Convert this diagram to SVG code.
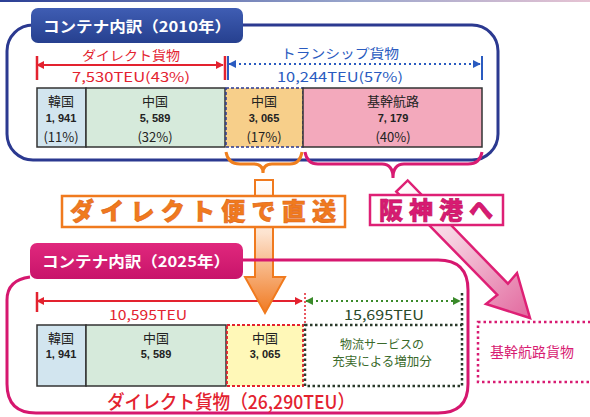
<svg xmlns="http://www.w3.org/2000/svg" width="590" height="417" viewBox="0 0 590 417">
<defs>
<linearGradient id="topline" x1="0" x2="1" y1="0" y2="0"><stop offset="0" stop-color="#2b3f95"/><stop offset="0.6" stop-color="#9aa6cc"/><stop offset="1" stop-color="#e6c3d3"/></linearGradient>
<linearGradient id="navyBox" x1="0" x2="0" y1="0" y2="1"><stop offset="0" stop-color="#3f5db3"/><stop offset="1" stop-color="#26408f"/></linearGradient>
<linearGradient id="magBox" x1="0" x2="0" y1="0" y2="1"><stop offset="0" stop-color="#e0287d"/><stop offset="1" stop-color="#c8146a"/></linearGradient>
<linearGradient id="orangeArrow" gradientUnits="userSpaceOnUse" x1="0" y1="180" x2="0" y2="313"><stop offset="0" stop-color="#ffffff"/><stop offset="0.4" stop-color="#fde3cf"/><stop offset="1" stop-color="#f07a22"/></linearGradient>
<linearGradient id="pinkArrow" gradientUnits="userSpaceOnUse" x1="400" y1="185" x2="530" y2="318"><stop offset="0" stop-color="#ffffff"/><stop offset="0.4" stop-color="#f6d0e0"/><stop offset="1" stop-color="#e2689e"/></linearGradient>
<marker id="mRed" viewBox="0 0 10 10" refX="9" refY="5" markerWidth="8" markerHeight="8" markerUnits="userSpaceOnUse" orient="auto-start-reverse"><path d="M0,0 L10,5 L0,10 z" fill="#e3222f"/></marker>
<marker id="mBlue" viewBox="0 0 10 10" refX="9" refY="5" markerWidth="8" markerHeight="8" markerUnits="userSpaceOnUse" orient="auto-start-reverse"><path d="M0,0 L10,5 L0,10 z" fill="#2a5bc0"/></marker>
<marker id="mGreen" viewBox="0 0 10 10" refX="9" refY="5" markerWidth="8" markerHeight="8" markerUnits="userSpaceOnUse" orient="auto-start-reverse"><path d="M0,0 L10,5 L0,10 z" fill="#3a8a2a"/></marker>
</defs>
<style>
text{font-family:"Noto Sans CJK JP","Liberation Sans",sans-serif;}
.title{fill:#fff;font-size:15px;font-weight:bold;}
.cell{fill:#222;font-size:13px;text-anchor:middle;}
.num{fill:#222;font-size:11px;font-weight:bold;text-anchor:middle;font-family:"Liberation Sans","Noto Sans CJK JP",sans-serif;}
.red{fill:#e3222f;}
.blue{fill:#2a5bc0;}
.lab{font-size:13px;text-anchor:middle;}
.frame{fill:none;stroke-width:3;}
.cellbox{stroke:#333;stroke-width:1.5;}
</style>
<rect x="0" y="0" width="590" height="2" fill="url(#topline)"/>

<g id="frame2010">
<rect class="frame" x="7" y="25" width="491" height="135" rx="26" stroke="#2b3990"/>
<rect x="31" y="8" width="212" height="35" rx="7" fill="url(#navyBox)"/>
<text class="title" x="137" y="32" text-anchor="middle" textLength="188" lengthAdjust="spacingAndGlyphs">コンテナ内訳（2010年）</text>
</g>

<g id="connectors">
<path d="M37,65 L223,65" stroke="#e3222f" stroke-width="2" marker-start="url(#mRed)" marker-end="url(#mRed)"/>
<path d="M37,56 V80 M225,56 V80" stroke="#e3222f" stroke-width="2.5"/>
<path d="M229,64 L480,64" stroke="#2a5bc0" stroke-width="2" stroke-dasharray="2 3" marker-start="url(#mBlue)" marker-end="url(#mBlue)"/>
<path d="M482,56 V80 M228,56 V80" stroke="#2a5bc0" stroke-width="2"/>
<path d="M37,301 L302,301" stroke="#e3222f" stroke-width="2" marker-start="url(#mRed)" marker-end="url(#mRed)"/>
<path d="M37,292 V312" stroke="#e3222f" stroke-width="2.5"/>
<path d="M306,301 L460,301" stroke="#3a8a2a" stroke-width="2" stroke-dasharray="2 3" marker-start="url(#mGreen)" marker-end="url(#mGreen)"/>
<path d="M305,293 V325" stroke="#e3222f" stroke-width="1.5" stroke-dasharray="2 2"/>
<path d="M462,293 V325" stroke="#2a3a2a" stroke-width="2.5" stroke-dasharray="2.5 2.5"/>
<path d="M226,152 Q228,164 240,164 L254,164 Q263,164 263,173 Q263,164 272,164 L290,164 Q300,164 302,152" fill="none" stroke="#f07f1e" stroke-width="3"/>
<path d="M305,152 Q307,164 318,164 L382,164 Q393,164 393,178 Q393,164 404,164 L468,164 Q480,164 482,152" fill="none" stroke="#d81b72" stroke-width="3"/>
<polygon points="255,180 273,180 273,277 285,277 265,313 245,277 255,277" fill="url(#orangeArrow)" stroke="#f07a1e" stroke-width="2"/>
<polygon points="396.3,191.6 497.3,294.9 486,304 530,318 517,273 507.9,283.7 407.7,180.4" fill="url(#pinkArrow)" stroke="#de2075" stroke-width="2.5" stroke-linejoin="miter"/>
</g>

<g id="label2010">
<text class="red lab" x="131" y="60" font-size="14" textLength="98" lengthAdjust="spacingAndGlyphs">ダイレクト貨物</text>
<text class="red lab" x="131" y="82" textLength="118" lengthAdjust="spacingAndGlyphs">7,530TEU(43%)</text>
<text class="blue lab" x="340" y="58" textLength="118" lengthAdjust="spacingAndGlyphs">トランシップ貨物</text>
<text class="blue lab" x="340" y="82" textLength="126" lengthAdjust="spacingAndGlyphs">10,244TEU(57%)</text>
</g>

<g id="korea2010">
<rect class="cellbox" x="37" y="88" width="49" height="59" fill="#d2e5ef"/>
<text class="cell" x="61" y="106">韓国</text>
<text class="num" x="61" y="122">1, 941</text>
<text class="cell" x="61" y="142">(11%)</text>
</g>
<g id="china2010">
<rect class="cellbox" x="86" y="88" width="139" height="59" fill="#d6eadb"/>
<text class="cell" x="155" y="106">中国</text>
<text class="num" x="155" y="122">5, 589</text>
<text class="cell" x="155" y="142">(32%)</text>
</g>
<g id="chinaTs2010">
<rect x="226" y="88" width="77" height="59" fill="#f7cf8a" stroke="#2b3990" stroke-width="1.5" stroke-dasharray="3 2"/>
<text class="cell" x="264" y="106">中国</text>
<text class="num" x="264" y="122">3, 065</text>
<text class="cell" x="264" y="142">(17%)</text>
</g>
<g id="trunk2010">
<rect class="cellbox" x="303" y="88" width="179" height="59" fill="#f3a9bc"/>
<text class="cell" x="393" y="106">基幹航路</text>
<text class="num" x="393" y="122">7, 179</text>
<text class="cell" x="393" y="142">(40%)</text>
</g>

<g id="bannerDirect">
<rect x="62" y="196" width="283" height="31" fill="#fff" stroke="#f07a1e" stroke-width="2.5"/>
<text x="203" y="220" font-size="24" font-weight="900" fill="#f07a1e" stroke="#e0661a" stroke-width="0.6" text-anchor="middle" textLength="266" lengthAdjust="spacing">ダイレクト便で直送</text>
</g>
<g id="bannerHanshin">
<rect x="370" y="195" width="133" height="30" fill="#fff" stroke="#de2075" stroke-width="2.5"/>
<text x="436" y="219" font-size="24" font-weight="900" fill="#d81b72" stroke="#c2105f" stroke-width="0.6" text-anchor="middle" textLength="114" lengthAdjust="spacing">阪神港へ</text>
</g>

<g id="frame2025">
<path class="frame" d="M30,277 Q7,280 7,300 L7,384 Q7,413 36,413 L438,413 Q468,413 468,384 L468,290 Q468,260 438,260 L243,260" stroke="#d6176f"/>
<rect x="30" y="243" width="213" height="36" rx="7" fill="url(#magBox)"/>
<text class="title" x="136" y="267" text-anchor="middle" textLength="188" lengthAdjust="spacingAndGlyphs">コンテナ内訳（2025年）</text>
</g>

<g id="label2025">
<text class="red lab" x="148" y="320" textLength="78" lengthAdjust="spacingAndGlyphs">10,595TEU</text>
<text class="lab" x="384" y="320" fill="#2a4a2a" textLength="80" lengthAdjust="spacingAndGlyphs">15,695TEU</text>
<text class="red" x="231" y="409" font-size="19" font-weight="500" text-anchor="middle" textLength="248" lengthAdjust="spacingAndGlyphs">ダイレクト貨物（26,290TEU）</text>
</g>

<g id="korea2025">
<rect class="cellbox" x="37" y="325" width="49" height="61" fill="#d2e5ef"/>
<text class="cell" x="61" y="343">韓国</text>
<text class="num" x="61" y="358">1, 941</text>
</g>
<g id="china2025">
<rect class="cellbox" x="86" y="325" width="140" height="61" fill="#d6eadb"/>
<text class="cell" x="156" y="343">中国</text>
<text class="num" x="156" y="358">5, 589</text>
</g>
<g id="chinaNew2025">
<rect x="227" y="325" width="76" height="61" fill="#fff8b8" stroke="#e3222f" stroke-width="1.8" stroke-dasharray="3 2"/>
<text class="cell" x="265" y="343">中国</text>
<text class="num" x="265" y="358">3, 065</text>
</g>
<g id="increase2025">
<rect x="305" y="325" width="157" height="61" fill="#fff" stroke="#2a3a2a" stroke-width="2.5" stroke-dasharray="2.5 2.5"/>
<text x="382" y="349" font-size="12" fill="#3a6a2a" text-anchor="middle">物流サービスの</text>
<text x="382" y="366" font-size="12.5" fill="#3a6a2a" text-anchor="middle">充実による増加分</text>
</g>
<g id="trunkCargo">
<rect x="478" y="322" width="130" height="60" fill="#fff" stroke="#d81b72" stroke-width="2.5" stroke-dasharray="2.5 3"/>
<text x="490" y="357" font-size="14" fill="#d81b72">基幹航路貨物</text>
</g>
</svg>
